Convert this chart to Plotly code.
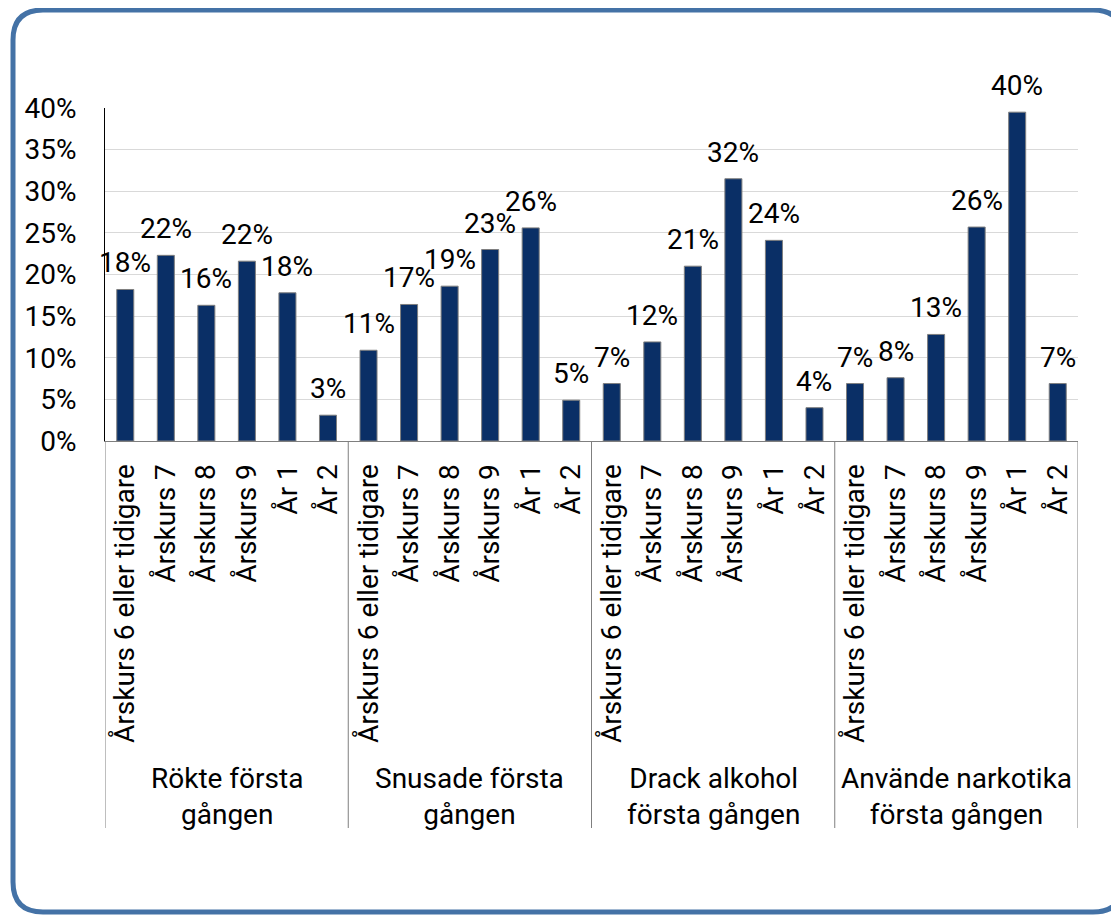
import plotly.graph_objects as go

groups = ["Rökte första<br>gången", "Snusade första<br>gången",
          "Drack alkohol<br>första gången", "Använde narkotika<br>första gången"]
subcats = ["Årskurs 6 eller tidigare", "Årskurs 7", "Årskurs 8", "Årskurs 9", "År 1", "År 2"]

rokte = [18.2, 22.3, 16.3, 21.6, 17.8, 3.1]
snusade = [10.9, 16.4, 18.6, 23.0, 25.6, 4.9]
drack = [6.9, 11.9, 21.0, 31.5, 24.1, 4.0]
narkotika = [6.9, 7.6, 12.8, 25.7, 39.5, 6.9]
labels = ["18%", "22%", "16%", "22%", "18%", "3%",
          "11%", "17%", "19%", "23%", "26%", "5%",
          "7%", "12%", "21%", "32%", "24%", "4%",
          "7%", "8%", "13%", "26%", "40%", "7%"]

yticks = [0, 5, 10, 15, 20, 25, 30, 35, 40]
ytick_labels = ["0%", "5%", "10%", "15%", "20%", "25%", "30%", "35%", "40%"]

series = [rokte, snusade, drack, narkotika]
n_sub = len(subcats)
xpos, xtext, yv = [], [], []
for gi, vals in enumerate(series):
    for si, v in enumerate(vals):
        xpos.append(gi * n_sub + si)
        xtext.append(subcats[si])
        yv.append(v)

FONT = "Roboto"
FS = 28
BAR = "#0A2F66"
OFF = 8  # page body margin

# plot area geometry in figure pixels
L, T, W, H = 105 - OFF, 108 - OFF, 973, 333
FIG_W, FIG_H = 1119 - OFF, 916 - OFF

def px(p):
    return (p - L) / W

def py(p):
    return (T + H - p) / H

fig = go.Figure()
fig.add_trace(go.Bar(
    x=xpos, y=yv,
    marker=dict(color=BAR, line=dict(color="#7f7f7f", width=1)),
    hoverinfo="skip", showlegend=False,
))

for x, v, t in zip(xpos, yv, labels):
    fig.add_annotation(x=x, y=v, xref="x", yref="y", text=t, showarrow=False,
                       yanchor="bottom", yshift=8,
                       font=dict(family=FONT, size=FS, color="#000000"))

# group labels and dividers
for gi, g in enumerate(groups):
    xc = gi * n_sub + (n_sub - 1) / 2
    fig.add_annotation(x=xc, y=py(833 - OFF), xref="x", yref="paper", text=g,
                       showarrow=False, yanchor="bottom",
                       font=dict(family=FONT, size=FS, color="#000000"))
for gi in range(len(series) + 1):
    xb = gi * n_sub - 0.5
    fig.add_shape(type="line", xref="x", yref="paper", x0=xb, x1=xb,
                  y0=0, y1=py(828 - OFF), line=dict(color="#7f7f7f", width=1))

# Rounded border
x0, x1, y0, y1, r = 13 - OFF, 1123 - OFF, 10 - OFF, 912 - OFF, 30
path = (f"M {px(x0)},{py(y0 + r)} Q {px(x0)},{py(y0)} {px(x0 + r)},{py(y0)} "
        f"L {px(x1 - r)},{py(y0)} Q {px(x1)},{py(y0)} {px(x1)},{py(y0 + r)} "
        f"L {px(x1)},{py(y1 - r)} Q {px(x1)},{py(y1)} {px(x1 - r)},{py(y1)} "
        f"L {px(x0 + r)},{py(y1)} Q {px(x0)},{py(y1)} {px(x0)},{py(y1 - r)} Z")
fig.add_shape(type="path", path=path, xref="paper", yref="paper",
              line=dict(color="#4472A6", width=5), layer="above")

fig.update_layout(
    width=FIG_W, height=FIG_H,
    margin=dict(l=L, r=FIG_W - L - W, t=T, b=FIG_H - T - H),
    paper_bgcolor="white", plot_bgcolor="white",
    bargap=0.58,
    font=dict(family=FONT, size=FS, color="#000000"),
    xaxis=dict(
        tickmode="array", tickvals=xpos, ticktext=xtext,
        tickangle=-90, showline=True, linecolor="#7f7f7f", linewidth=1,
        ticks="", ticklabelstandoff=11, showgrid=False, zeroline=False,
        tickfont=dict(family=FONT, size=FS, color="#000000"),
        range=[-0.5, len(xpos) - 0.5],
    ),
    yaxis=dict(
        range=[0, 40], tickmode="array", tickvals=yticks, ticktext=ytick_labels,
        showgrid=True, gridcolor="#d9d9d9", gridwidth=1,
        showline=True, linecolor="#000000", linewidth=1,
        zeroline=False, ticks="", ticklabelstandoff=22,
        tickfont=dict(family=FONT, size=FS, color="#000000"),
    ),
)

fig.write_html("out.html")
